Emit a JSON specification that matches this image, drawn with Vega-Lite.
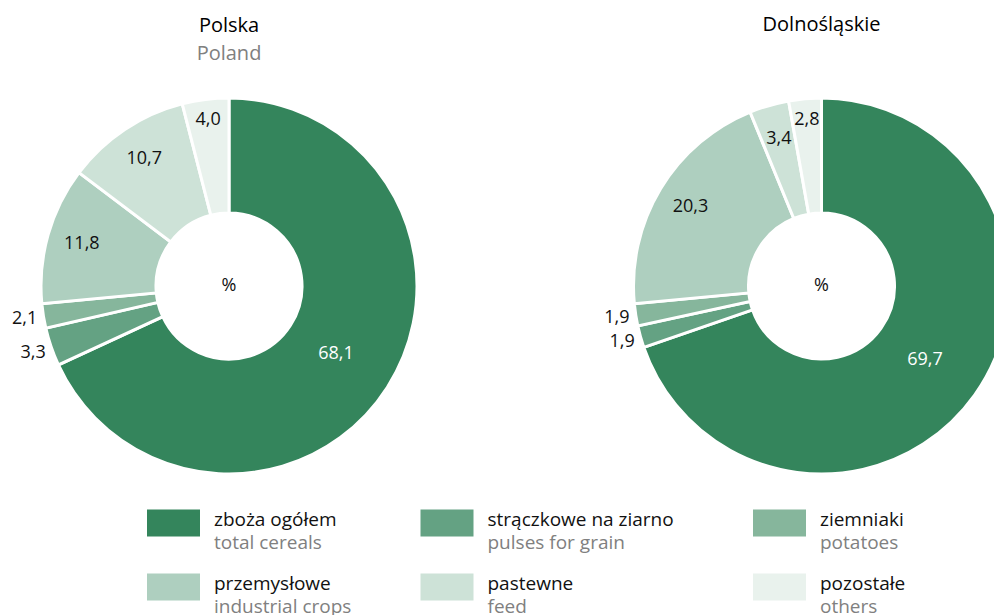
{
  "$schema": "https://vega.github.io/schema/vega-lite/v6.json",
  "padding": {"left": 12, "top": 14, "right": 0, "bottom": 0},
  "config": {
    "font": "Open Sans",
    "view": {"stroke": null},
    "locale": {"number": {"decimal": ",", "thousands": " ", "grouping": [3], "currency": ["", " zł"]}}
  },
  "datasets": {
    "shares": [
      {"region": "Polska", "k": 1, "kat": "zboża ogółem", "value": 68.1},
      {"region": "Polska", "k": 2, "kat": "strączkowe na ziarno", "value": 3.3},
      {"region": "Polska", "k": 3, "kat": "ziemniaki", "value": 2.1},
      {"region": "Polska", "k": 4, "kat": "przemysłowe", "value": 11.8},
      {"region": "Polska", "k": 5, "kat": "pastewne", "value": 10.7},
      {"region": "Polska", "k": 6, "kat": "pozostałe", "value": 4.0},
      {"region": "Dolnośląskie", "k": 1, "kat": "zboża ogółem", "value": 69.7},
      {"region": "Dolnośląskie", "k": 2, "kat": "strączkowe na ziarno", "value": 1.9},
      {"region": "Dolnośląskie", "k": 3, "kat": "ziemniaki", "value": 1.9},
      {"region": "Dolnośląskie", "k": 4, "kat": "przemysłowe", "value": 20.3},
      {"region": "Dolnośląskie", "k": 5, "kat": "pastewne", "value": 3.4},
      {"region": "Dolnośląskie", "k": 6, "kat": "pozostałe", "value": 2.8}
    ],
    "crops": [
      {"k": 1, "kat": "zboża ogółem", "en": "total cereals"},
      {"k": 2, "kat": "strączkowe na ziarno", "en": "pulses for grain"},
      {"k": 3, "kat": "ziemniaki", "en": "potatoes"},
      {"k": 4, "kat": "przemysłowe", "en": "industrial crops"},
      {"k": 5, "kat": "pastewne", "en": "feed"},
      {"k": 6, "kat": "pozostałe", "en": "others"}
    ]
  },
  "spacing": 29,
  "resolve": {"scale": {"color": "shared"}},
  "vconcat": [
    {
      "bounds": "flush",
      "spacing": 212.5,
      "hconcat": [
        {
          "width": 380,
          "height": 380,
          "title": {"text": "Polska", "subtitle": "Poland", "frame": "group", "anchor": "middle", "fontSize": 20, "fontWeight": "normal", "color": "#000000", "subtitleFontSize": 20, "subtitleColor": "#808080", "subtitlePadding": 8, "offset": 8},
          "data": {"name": "shares"},
          "transform": [{"filter": "datum.region === 'Polska'"}],
          "encoding": {
            "theta": {"field": "value", "type": "quantitative", "stack": true},
            "order": {"field": "k", "type": "quantitative"}
          },
          "layer": [
            {"mark": {"type": "arc", "innerRadius": 73, "outerRadius": 188, "stroke": "#ffffff", "strokeWidth": 3},
             "encoding": {"color": {"field": "kat", "type": "nominal", "legend": null,
               "scale": {"domain": ["zboża ogółem", "strączkowe na ziarno", "ziemniaki", "przemysłowe", "pastewne", "pozostałe"],
                         "range": ["#34855C", "#64A283", "#86B69C", "#AECFBF", "#CDE2D7", "#E9F2ED"]}}}},
            {"mark": {"type": "text", "radius": 127, "fill": "#ffffff", "fontSize": 18},
             "encoding": {"detail": {"field": "kat", "type": "nominal"},
               "text": {"condition": {"test": "datum.k === 1", "field": "value", "type": "quantitative", "format": ".1f"}, "value": ""}}},
            {"mark": {"type": "text", "radius": 207, "fill": "#111111", "fontSize": 18},
             "encoding": {"detail": {"field": "kat", "type": "nominal"},
               "text": {"condition": {"test": "datum.k === 2 || datum.k === 3", "field": "value", "type": "quantitative", "format": ".1f"}, "value": ""}}},
            {"mark": {"type": "text", "radius": 153, "fill": "#111111", "fontSize": 18},
             "encoding": {"detail": {"field": "kat", "type": "nominal"},
               "text": {"condition": {"test": "datum.k === 4 || datum.k === 5", "field": "value", "type": "quantitative", "format": ".1f"}, "value": ""}}},
            {"mark": {"type": "text", "radius": 167, "fill": "#111111", "fontSize": 18},
             "encoding": {"detail": {"field": "kat", "type": "nominal"},
               "text": {"condition": {"test": "datum.k === 6", "field": "value", "type": "quantitative", "format": ".1f"}, "value": ""}}},
            {"mark": {"type": "text", "fill": "#111111", "fontSize": 18},
             "encoding": {"theta": null, "order": null,
               "text": {"condition": {"test": "datum.k === 1", "value": "%"}, "value": ""}}}
          ]
        },
        {
          "width": 380,
          "height": 380,
          "title": {"text": "Dolnośląskie", "frame": "group", "anchor": "middle", "fontSize": 20, "fontWeight": "normal", "color": "#000000", "offset": 36},
          "data": {"name": "shares"},
          "transform": [{"filter": "datum.region === 'Dolnośląskie'"}],
          "encoding": {
            "theta": {"field": "value", "type": "quantitative", "stack": true},
            "order": {"field": "k", "type": "quantitative"}
          },
          "layer": [
            {"mark": {"type": "arc", "innerRadius": 73, "outerRadius": 188, "stroke": "#ffffff", "strokeWidth": 3},
             "encoding": {"color": {"field": "kat", "type": "nominal", "legend": null}}},
            {"mark": {"type": "text", "radius": 127, "fill": "#ffffff", "fontSize": 18},
             "encoding": {"detail": {"field": "kat", "type": "nominal"},
               "text": {"condition": {"test": "datum.k === 1", "field": "value", "type": "quantitative", "format": ".1f"}, "value": ""}}},
            {"mark": {"type": "text", "radius": 207, "fill": "#111111", "fontSize": 18},
             "encoding": {"detail": {"field": "kat", "type": "nominal"},
               "text": {"condition": {"test": "datum.k === 2 || datum.k === 3", "field": "value", "type": "quantitative", "format": ".1f"}, "value": ""}}},
            {"mark": {"type": "text", "radius": 153, "fill": "#111111", "fontSize": 18},
             "encoding": {"detail": {"field": "kat", "type": "nominal"},
               "text": {"condition": {"test": "datum.k === 4 || datum.k === 5", "field": "value", "type": "quantitative", "format": ".1f"}, "value": ""}}},
            {"mark": {"type": "text", "radius": 167, "fill": "#111111", "fontSize": 18},
             "encoding": {"detail": {"field": "kat", "type": "nominal"},
               "text": {"condition": {"test": "datum.k === 6", "field": "value", "type": "quantitative", "format": ".1f"}, "value": ""}}},
            {"mark": {"type": "text", "fill": "#111111", "fontSize": 18},
             "encoding": {"theta": null, "order": null,
               "text": {"condition": {"test": "datum.k === 1", "value": "%"}, "value": ""}}}
          ]
        }
      ]
    },
    {
      "width": 620,
      "height": 64,
      "data": {"name": "crops"},
      "transform": [
        {"calculate": "(datum.k - 1) % 3", "as": "col"},
        {"calculate": "floor((datum.k - 1) / 3)", "as": "row"}
      ],
      "encoding": {
        "x": {"field": "col", "type": "quantitative", "axis": null, "scale": {"domain": [0, 1, 2], "range": [134.5, 408, 740.5], "nice": false, "zero": false}},
        "y": {"field": "row", "type": "quantitative", "axis": null, "scale": {"domain": [0, 1], "range": [0, 64], "nice": false, "zero": false}}
      },
      "layer": [
        {"mark": {"type": "point", "shape": "M-1,-0.51H1V0.51H-1Z", "size": 2809, "filled": true, "opacity": 1, "strokeWidth": 0},
         "encoding": {"color": {"field": "kat", "type": "nominal", "legend": null}}},
        {"mark": {"type": "text", "align": "left", "baseline": "alphabetic", "dx": 40.5, "dy": 2.5, "fontSize": 19, "fill": "#111111"},
         "encoding": {"text": {"field": "kat", "type": "nominal"}}},
        {"mark": {"type": "text", "align": "left", "baseline": "alphabetic", "dx": 40.5, "dy": 26, "fontSize": 19, "fill": "#808080"},
         "encoding": {"text": {"field": "en", "type": "nominal"}}}
      ]
    }
  ]
}
